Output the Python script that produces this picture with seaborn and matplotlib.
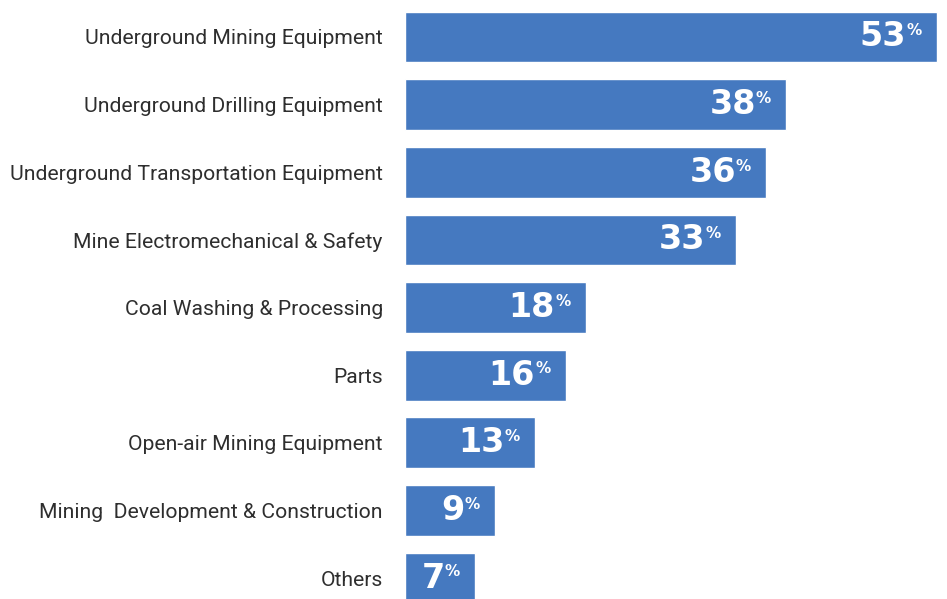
import matplotlib
matplotlib.use("Agg")
import matplotlib.pyplot as plt
import seaborn as sns
import pandas as pd

categories = [
    "Underground Mining Equipment",
    "Underground Drilling Equipment",
    "Underground Transportation Equipment",
    "Mine Electromechanical & Safety",
    "Coal Washing & Processing",
    "Parts",
    "Open-air Mining Equipment",
    "Mining  Development & Construction",
    "Others",
]
values = [53, 38, 36, 33, 18, 16, 13, 9, 7]

df = pd.DataFrame({"category": categories, "value": values})

sns.set_theme(style="white")
plt.rcParams['font.family'] = ['Roboto', 'DejaVu Sans']

fig = plt.figure(figsize=(9.47, 5.99), dpi=100)
ax = fig.add_axes([405 / 947, 0.0, 1 - 405 / 947, 1.0])

sns.barplot(data=df, x="value", y="category", orient="h", color="#4579c0",
            saturation=1, width=0.75, ax=ax)

ax.set_xlim(0, 54)
ax.set_ylim(8.31, -0.547)
ax.set_xlabel("")
ax.set_ylabel("")
ax.set_xticks([])
ax.tick_params(axis="y", length=0, pad=16, labelsize=15.2, labelcolor="#2e2e2e")
for lbl in ax.get_yticklabels():
    lbl.set_fontweight("normal")
    lbl.set_family(['Roboto', 'DejaVu Sans'])
for s in ax.spines.values():
    s.set_visible(False)

for i, v in enumerate(values):
    ax.annotate(str(v), xy=(v, i), xytext=(-22, 0), textcoords="offset points",
                ha="right", va="center", color="white", fontsize=24,
                fontweight="bold", family=['DejaVu Sans'])
    ax.annotate("%", xy=(v, i), xytext=(-22, 4.5), textcoords="offset points",
                ha="left", va="center", color="white", fontsize=11,
                fontweight="bold", family=['DejaVu Sans'])

fig.savefig("out.png", dpi=100, facecolor="white")
